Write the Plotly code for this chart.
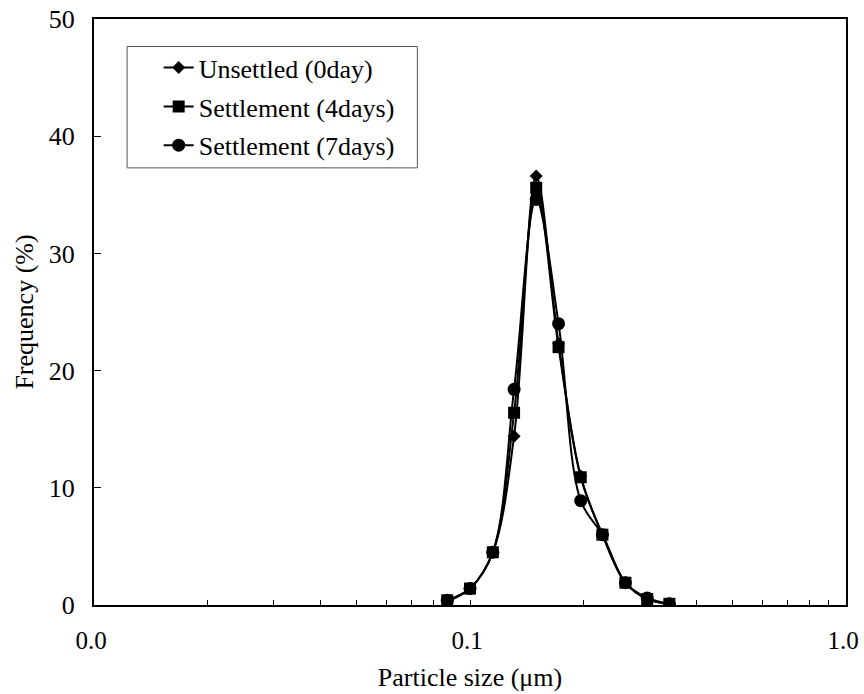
import plotly.graph_objects as go

sizes = [0.087, 0.100, 0.115, 0.131, 0.150, 0.172, 0.197, 0.225, 0.259, 0.296, 0.339]
unsettled_0day = [0.3, 1.4, 4.5, 14.4, 36.6, 22.3, 11.0, 6.0, 1.9, 0.5, 0.1]
settle_4days = [0.4, 1.4, 4.5, 16.4, 35.6, 22.0, 10.9, 6.0, 1.9, 0.5, 0.1]
settle_7days = [0.4, 1.4, 4.5, 18.4, 34.6, 24.0, 8.9, 6.0, 1.9, 0.6, 0.1]

x_label_vals = [0.01, 0.1, 1.0]
x_label_text = ["0.0", "0.1", "1.0"]
y_tickvals = [0, 10, 20, 30, 40, 50]

font_family = "Liberation Serif"

fig = go.Figure()
series = [
    ("Unsettled (0day)", unsettled_0day, "diamond", 10),
    ("Settlement (4days)", settle_4days, "square", 12),
    ("Settlement (7days)", settle_7days, "circle", 13),
]
for i, (name, vals, sym, sz) in enumerate(series):
    fig.add_trace(go.Scatter(
        x=sizes, y=vals, name=name, mode="lines+markers", legendgroup=f"g{i}",
        line=dict(color="black", width=2, shape="spline", smoothing=1.0),
        marker=dict(symbol=sym, size=sz, color="black"),
    ))

# tick positions (all log digits), labels only at decades
tick_vals = []
for dec in [0.01, 0.1]:
    for k in range(1, 10):
        tick_vals.append(round(dec * k, 4))
tick_vals.append(1.0)
tick_text = []
for v in tick_vals:
    lab = ""
    for lv, lt in zip(x_label_vals, x_label_text):
        if abs(v - lv) < 1e-9:
            lab = lt
    tick_text.append(lab)

fig.update_layout(
    width=864, height=694,
    margin=dict(l=94, r=18, t=19, b=89),
    paper_bgcolor="white", plot_bgcolor="white",
    font=dict(family=font_family, size=26, color="black"),
    showlegend=True,
    legend=dict(
        x=0.086, y=0.957, xanchor="left", yanchor="top",
        borderwidth=0, bgcolor="rgba(0,0,0,0)",
        font=dict(family=font_family, size=26, color="black"),
        itemwidth=30, tracegroupgap=2,
    ),
    shapes=[dict(type="rect", xref="paper", yref="paper",
                 x0=0.044, x1=0.43, y0=0.746, y1=0.953,
                 line=dict(color="#555555", width=1), fillcolor="rgba(0,0,0,0)",
                 layer="below")],
    xaxis=dict(
        type="log", range=[-2, 0], automargin=False,
        tickmode="array", tickvals=tick_vals, ticktext=tick_text,
        ticks="inside", ticklen=5, tickwidth=1, tickcolor="black",
        ticklabelstandoff=12, ticklabelshift=-3, ticklabeloverflow="allow",
        showline=True, linecolor="black", linewidth=2, mirror=True,
        showgrid=False, zeroline=False,
        tickfont=dict(family=font_family, size=25, color="black"),
        title=dict(text="Particle size (μm)", standoff=15,
                   font=dict(family=font_family, size=26, color="black")),
    ),
    yaxis=dict(
        range=[0, 50], tickvals=y_tickvals, automargin=False,
        ticks="inside", ticklen=7, tickwidth=1, tickcolor="black",
        showline=True, linecolor="black", linewidth=2, mirror=True,
        showgrid=False, zeroline=False,
        tickfont=dict(family=font_family, size=26, color="black"),
        ticklabelstandoff=12, ticklabeloverflow="allow",
        title=dict(text="Frequency (%)", standoff=8,
                   font=dict(family=font_family, size=26, color="black")),
    ),
)

# remove the page's default 8px body margin so the figure fills the window
fig.write_html(
    "out.html",
    config={"displayModeBar": False},
    post_script="document.body.style.margin='0px';document.body.style.overflow='hidden';",
)
